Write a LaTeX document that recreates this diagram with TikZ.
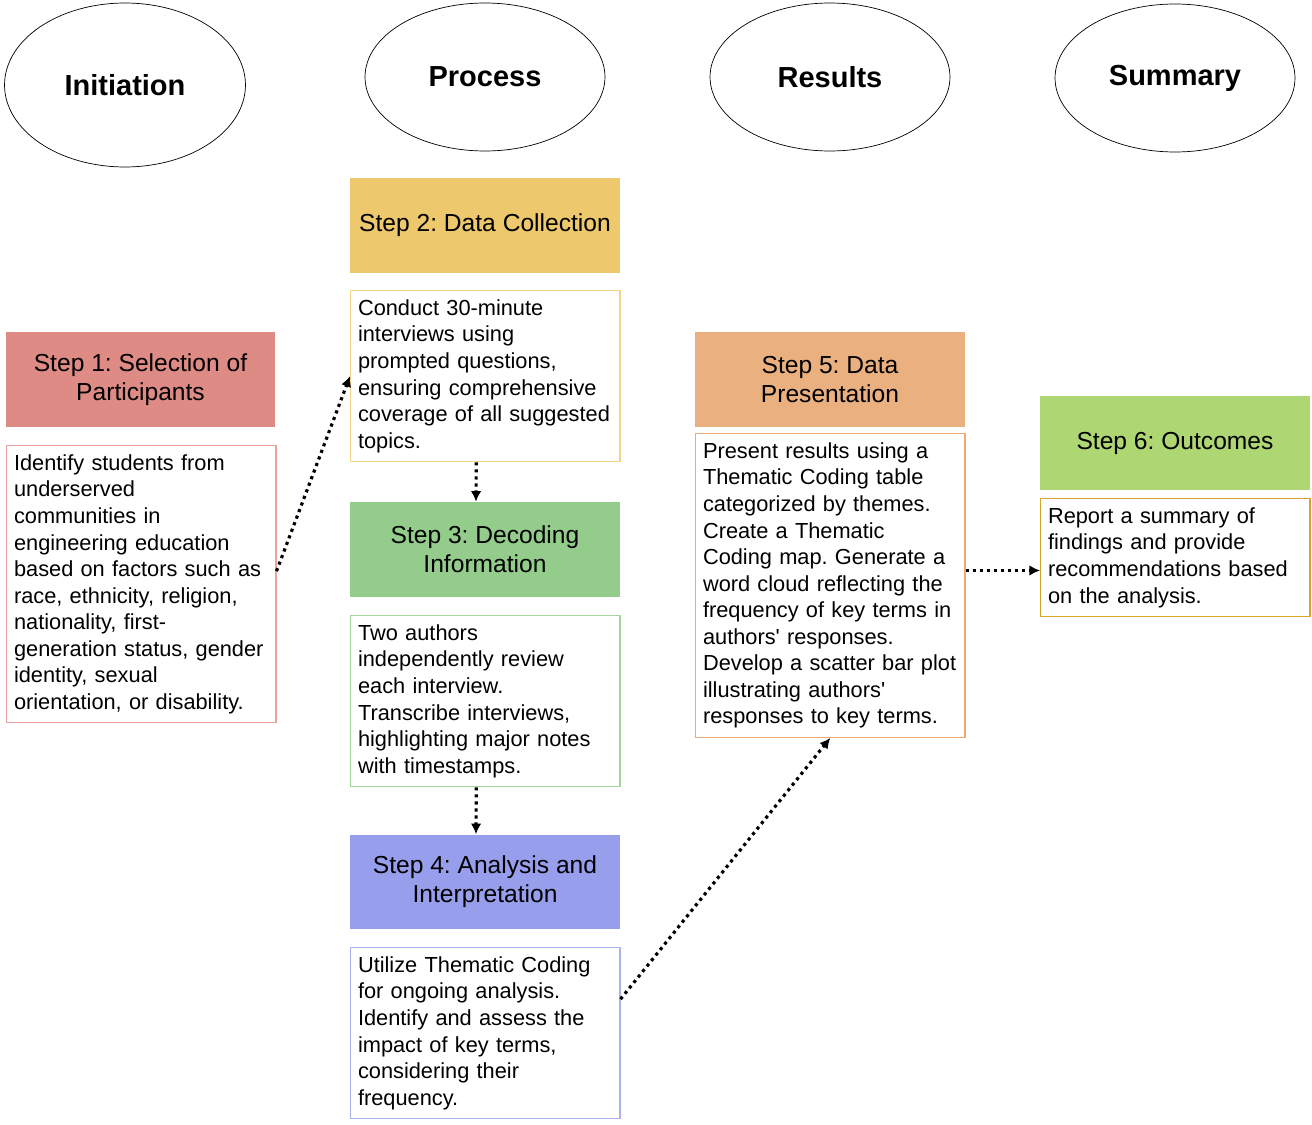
\documentclass[tikz,border=0pt]{standalone}
\usepackage{fontspec}
\setmainfont{Liberation Sans}
\usetikzlibrary{arrows.meta,shapes.geometric}
\frenchspacing
\hyphenpenalty=10000

\definecolor{redfill}{HTML}{DE8A85}
\definecolor{redline}{HTML}{E9A3A0}
\definecolor{goldfill}{HTML}{EDC86C}
\definecolor{goldline}{HTML}{F0D58A}
\definecolor{greenfill}{HTML}{93CC8B}
\definecolor{greenline}{HTML}{A6D49E}
\definecolor{bluefill}{HTML}{979FEC}
\definecolor{blueline}{HTML}{ABB1F0}
\definecolor{orangefill}{HTML}{EAB07F}
\definecolor{orangeline}{HTML}{EEAA72}
\definecolor{limefill}{HTML}{AED672}
\definecolor{ochreline}{HTML}{D6A52C}

\begin{document}
\begin{tikzpicture}[x=0.02cm, y=-0.02cm,
    phase/.style={ellipse, draw, thin, minimum width=4.8cm, minimum height=2.96cm, font=\fontsize{16.5}{20}\selectfont\bfseries},
    head/.style={rectangle, minimum width=5.4cm, minimum height=1.9cm, align=center, font=\fontsize{14}{16.4}\selectfont},
    body/.style={rectangle, draw, line width=0.6pt, anchor=north west, text width=5.09cm, inner xsep=0.15cm, inner ysep=5.2pt, align=left, font=\fontsize{12.4}{15.1}\selectfont},
    arrow/.style={-{Latex[length=6pt,width=6pt]}, line width=1.8pt, dash pattern=on 1.8pt off 2.2pt}
  ]
  \useasboundingbox (0,0) rectangle (1312,1125);

  % Phases
  \node[phase, minimum width=4.82cm, minimum height=3.28cm] (initiation) at (125,85) {Initiation};
  \node[phase] (process) at (485,77) {Process};
  \node[phase] (results) at (830,77) {Results};
  \node[phase] (summary) at (1175,78) {Summary};

  % Step 1
  \node[head, fill=redfill] (h1) at (140.5,379.5) {Step 1: Selection of\\Participants};
  \node[body, draw=redline] (b1) at (6,445) {Identify students from\\underserved\\communities in\\engineering education\\based on factors such as\\race, ethnicity, religion,\\nationality, first-\\generation status, gender\\identity, sexual\\orientation, or disability.};

  % Step 2
  \node[head, fill=goldfill] (h2) at (485,225.5) {Step 2: Data Collection};
  \node[body, draw=goldline] (b2) at (350,290) {Conduct 30-minute\\interviews using\\prompted questions,\\ensuring comprehensive\\coverage of all suggested\\topics.};

  % Step 3
  \node[head, fill=greenfill] (h3) at (485,549.5) {Step 3: Decoding\\Information};
  \node[body, draw=greenline] (b3) at (350,615) {Two authors\\independently review\\each interview.\\Transcribe interviews,\\highlighting major notes\\with timestamps.};

  % Step 4
  \node[head, fill=bluefill] (h4) at (485,882) {Step 4: Analysis and\\Interpretation};
  \node[body, draw=blueline] (b4) at (350,947) {Utilize Thematic Coding\\for ongoing analysis.\\Identify and assess the\\impact of key terms,\\considering their\\frequency.};

  % Step 5
  \node[head, fill=orangefill] (h5) at (830,379.5) {Step 5: Data\\Presentation};
  \node[body, draw=orangeline] (b5) at (695,433) {Present results using a\\Thematic Coding table\\categorized by themes.\\Create a Thematic\\Coding map. Generate a\\word cloud reflecting the\\frequency of key terms in\\authors\textquotesingle{} responses.\\Develop a scatter bar plot\\illustrating authors\textquotesingle\\responses to key terms.};

  % Step 6
  \node[head, fill=limefill] (h6) at (1175,443) {Step 6: Outcomes};
  \node[body, draw=ochreline] (b6) at (1040,498) {Report a summary of\\findings and provide\\recommendations based\\on the analysis.};

  % Connections
  \draw[arrow] ([yshift=0.26cm]b1.east) -- (b2.west);
  \draw[arrow] ([xshift=-0.18cm]b2.south) -- ([xshift=-0.18cm]h3.north);
  \draw[arrow] ([xshift=-0.18cm]b3.south) -- ([xshift=-0.18cm]h4.north);
  \draw[arrow] ([yshift=0.68cm]b4.east) -- (b5.south);
  \draw[arrow] ([yshift=0.3cm]b5.east) -- ([yshift=0.3cm]b5.east -| b6.west);

\end{tikzpicture}
\end{document}
